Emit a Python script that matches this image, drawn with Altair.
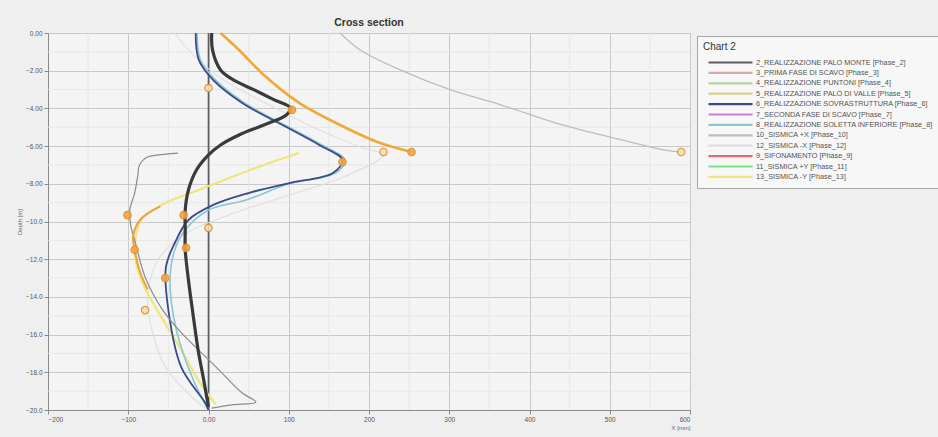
import altair as alt
import pandas as pd

# ---------------- legend series ----------------
series_names = [
    "2_REALIZZAZIONE PALO MONTE [Phase_2]",
    "3_PRIMA FASE DI SCAVO [Phase_3]",
    "4_REALIZZAZIONE PUNTONI [Phase_4]",
    "5_REALIZZAZIONE PALO DI VALLE [Phase_5]",
    "6_REALIZZAZIONE SOVRASTRUTTURA [Phase_6]",
    "7_SECONDA FASE DI SCAVO [Phase_7]",
    "8_REALIZZAZIONE SOLETTA INFERIORE [Phase_8]",
    "10_SISMICA +X [Phase_10]",
    "12_SISMICA -X [Phase_12]",
    "9_SIFONAMENTO [Phase_9]",
    "11_SISMICA +Y [Phase_11]",
    "13_SISMICA -Y [Phase_13]",
]
series_colors = [
    "#5a5f66", "#d9a9a9", "#b5d6a6", "#d6cf8e", "#3b4a8c", "#d27fe0",
    "#8cc6cf", "#bdbdbd", "#e0e0e0", "#e26a6a", "#7fe07f", "#efe57a",
]

# ---------------- curves (depth [m], displacement) ----------------
p2_d = [0, -20]
p2_x = [0, 0]

p6_d = [0, -1.43, -2.5, -3.71, -4.99, -5.94, -6.74, -7.43, -7.96, -8.49, -9.12,
        -9.92, -11.14, -12.41, -14.7, -17.72, -19.63, -20]
p6_x = [-16, -12, 6, 42, 97, 138, 167, 155, 101, 50, 6,
        -25, -42, -53, -50, -34, -4, 0]

p8_d = [0, -1.43, -2.5, -3.71, -4.99, -5.94, -6.74, -7.43, -8.0, -8.86, -9.39,
        -10.45, -11.5, -13.1, -15.76, -18.4, -20]
p8_x = [-14, -10, 9, 45, 100, 141, 170, 158, 100, 47, 0,
        -29, -42, -48, -40, -19, 0]

p10_d = [0, -0.9, -1.96, -3.02, -3.82, -4.88, -5.68, -6.2, -6.31]
p10_x = [164, 189, 239, 302, 365, 441, 516, 567, 589]

p12_d = [0, -1.17, -2.49, -3.82, -5.15, -6.05, -6.47, -7.64, -8.59, -9.66,
         -10.7, -12.04, -14.16, -16.0, -17.7, -19.6, -20]
p12_x = [-42, -19, 19, 76, 138, 189, 218, 168, 101, 25,
         -31, -63, -76, -69, -54, -13, 0]

p13_d = [-6.37, -7.0, -7.64, -8.44, -9.02, -9.92, -11.5, -12.57, -13.8, -15.2,
         -16.8, -18.4, -19.7]
p13_x = [113, 69, 29, -19, -54, -84, -92, -88, -76, -57, -34, -13, 9]

# curves drawn without a legend entry
env_d = [0, -0.9, -1.96, -2.49, -3.02, -3.55, -3.98, -4.35, -4.88, -5.41, -5.94,
         -6.47, -7.27, -8.33, -9.39, -10.45, -11.5, -13.1, -14.7, -16.8, -18.4, -19.84]
env_x = [4, 5, 15, 31, 57, 82, 102, 97, 69, 38, 15,
         0, -15, -25, -29, -29, -29, -25, -20, -13, -6, 0]

gold_d = [0, -0.9, -2.23, -3.71, -4.88, -5.84, -6.31]
gold_x = [15, 38, 69, 113, 164, 214, 253]

wig_d = [-6.37, -6.47, -6.58, -7.0, -7.53, -8.49, -9.39, -10.19, -10.98, -12.94,
         -14.7, -15.9, -17.7, -19.1, -19.58, -19.73, -19.9]
wig_x = [-38, -63, -76, -86, -88, -92, -98, -97, -92, -79,
         -57, -34, 9, 42, 59, 29, 4]

orb_d = [-9.2, -9.9, -10.8, -11.5, -12.6, -13.6]
orb_x = [-60, -85, -94, -92, -86, -76]

# orange markers
mk_d = [-4.08, -6.31, -6.31, -6.31, -6.84, -2.92, -10.34, -9.66, -9.66, -11.5, -11.4, -13.0, -14.7]
mk_x = [104, 253, 218, 589, 167, 0, 0, -101, -31, -92, -28, -54, -79]
mk_filled = [1, 1, 0, 0, 1, 0, 0, 1, 1, 1, 1, 1, 0]

# ---------------- build tables ----------------
def rows(name, d, x, w, color=None):
    out = []
    for i, (dd, xx) in enumerate(zip(d, x)):
        r = {"series": name, "d": dd, "x": xx, "o": i, "w": w}
        if color:
            r["hex"] = color
        out.append(r)
    return out

legend_rows = []
legend_rows += rows(series_names[0], p2_d, p2_x, 1.6)
legend_rows += rows(series_names[8], p12_d, p12_x, 1.2)
legend_rows += rows(series_names[7], p10_d, p10_x, 1.3)
legend_rows += rows(series_names[11], p13_d, p13_x, 2.2)
legend_rows += rows(series_names[6], p8_d, p8_x, 1.6)
legend_rows += rows(series_names[4], p6_d, p6_x, 1.8)
df_leg = pd.DataFrame(legend_rows)

extra_rows = []
extra_rows += rows("wiggle", wig_d, wig_x, 1.2, "#8c8c8c")
extra_rows += rows("orange_low", orb_d, orb_x, 2.0, "#eaa33c")
extra_rows += rows("gold", gold_d, gold_x, 2.6, "#f0a837")
extra_rows += rows("envelope", env_d, env_x, 3.2, "#3a3a3a")
df_ext = pd.DataFrame(extra_rows)

df_mk = pd.DataFrame({"d": mk_d, "x": mk_x,
                      "fill": ["#f2a640" if f else "#f6dcb4" for f in mk_filled]})

xscale = alt.Scale(domain=[-200, 600], nice=False, zero=False)
yscale = alt.Scale(domain=[-20, 0], nice=False, zero=False)

lbl = "datum.value == 0 ? '0.00' : format(datum.value, '.3r')"
xaxis = alt.Axis(values=[-200, -100, 0, 100, 200, 300, 400, 500, 600], labelExpr=lbl,
                 title="X [mm]", titleAnchor="end", titleFontSize=6, titleFontWeight="normal",
                 titlePadding=2, titleColor="#666")
yaxis = alt.Axis(values=[0, -2, -4, -6, -8, -10, -12, -14, -16, -18, -20], labelExpr=lbl,
                 title="Depth [m]", titleFontSize=6, titleFontWeight="normal",
                 titlePadding=3, titleColor="#666")

minor_x = pd.DataFrame({"v": [-150, -50, 50, 150, 250, 350, 450, 550]})
minor_y = pd.DataFrame({"v": [-1, -3, -5, -7, -9, -11, -13, -15, -17, -19]})

minor_v = alt.Chart(minor_x).mark_rule(color="#e3e3e3", strokeWidth=0.8).encode(
    x=alt.X("v:Q", scale=xscale, axis=xaxis))
minor_h = alt.Chart(minor_y).mark_rule(color="#e3e3e3", strokeWidth=0.8).encode(
    y=alt.Y("v:Q", scale=yscale, axis=yaxis))

lines_leg = alt.Chart(df_leg).mark_line(interpolate="catmull-rom").encode(
    x=alt.X("x:Q", scale=xscale, axis=xaxis),
    y=alt.Y("d:Q", scale=yscale, axis=yaxis),
    color=alt.Color("series:N",
                    scale=alt.Scale(domain=series_names, range=series_colors),
                    legend=alt.Legend(title="Chart 2", orient="none", legendX=649, legendY=3,
                                      symbolType="M0,0H11", symbolSize=64, symbolStrokeWidth=2.2,
                                      labelOffset=42,
                                      labelFontSize=7.3, labelColor="#555", titleFontSize=10,
                                      titleFontWeight="normal", titleColor="#333",
                                      fillColor="#f7f7f7", strokeColor="#a5a5a5", padding=6,
                                      rowPadding=0.4, labelLimit=200, titlePadding=5)),
    strokeWidth=alt.StrokeWidth("w:Q", scale=None),
    order="o:Q",
)

lines_ext = alt.Chart(df_ext).mark_line(interpolate="catmull-rom").encode(
    x=alt.X("x:Q", scale=xscale, axis=xaxis),
    y=alt.Y("d:Q", scale=yscale, axis=yaxis),
    stroke=alt.Stroke("hex:N", scale=None),
    detail="series:N",
    strokeWidth=alt.StrokeWidth("w:Q", scale=None),
    order="o:Q",
)

markers = alt.Chart(df_mk).mark_point(shape="circle", size=55, filled=True, strokeWidth=1.2,
                                      stroke="#e2902c", opacity=0.9).encode(
    x=alt.X("x:Q", scale=xscale, axis=xaxis),
    y=alt.Y("d:Q", scale=yscale, axis=yaxis),
    fill=alt.Fill("fill:N", scale=None),
)

chart = alt.layer(minor_v, minor_h, lines_leg, lines_ext, markers).resolve_scale(
    color="independent", stroke="independent", fill="independent"
).properties(
    width=642, height=377,
    title=alt.TitleParams("Cross section", fontSize=10.5, fontWeight="bold", color="#333",
                          anchor="middle", offset=-2, font="Liberation Sans"),
    autosize=alt.AutoSizeParams(type="none"),
    padding={"left": 48, "top": 33, "right": 248, "bottom": 27},
    background="#efefef",
).configure_view(
    fill="#f4f4f4", stroke="#9a9a9a", strokeWidth=1
).configure_axis(
    labelFontSize=6.5, labelColor="#555", labelFont="Liberation Sans", titleFont="Liberation Sans",
    gridColor="#c9c9c9", gridWidth=1, domainColor="#8a8a8a", tickColor="#8a8a8a", tickSize=4,
    labelPadding=2,
).configure_legend(
    labelFont="Liberation Sans", titleFont="Liberation Sans"
)

chart.save("out.html", embed_options={"renderer": "svg", "actions": False})
